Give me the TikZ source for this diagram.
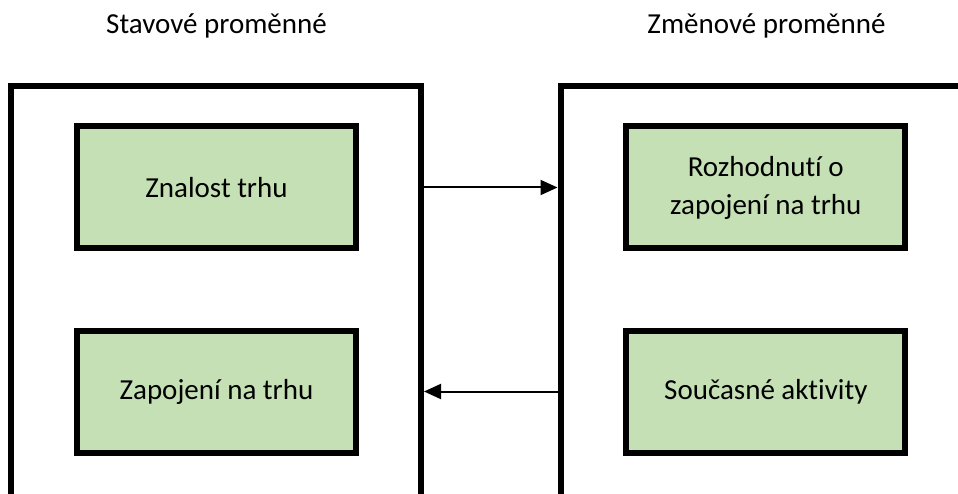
\documentclass[tikz,border=0pt]{standalone}
\usepackage{fontspec}
\setmainfont[Ligatures=NoCommon]{Carlito}
\usetikzlibrary{arrows.meta}
\definecolor{boxgreen}{HTML}{C5E0B4}
\begin{document}
\begin{tikzpicture}[x=1pt,y=-1pt,
  frame/.style={draw=black, line width=6pt, anchor=north west, inner sep=0pt,
    minimum height=500pt},
  item/.style={draw=black, fill=boxgreen, line width=6pt, inner sep=0pt,
    minimum width=279pt, minimum height=122pt, align=center,
    font=\fontsize{29}{38}\selectfont},
  heading/.style={font=\fontsize{29}{38}\selectfont, anchor=base},
  link/.style={line width=2pt, -{Triangle[length=17pt,width=15pt]}}]
  \useasboundingbox (0,0) rectangle (958,494);
  \clip (0,0) rectangle (958,494);

  % column headings
  \node[heading] (hstate) at (216.5,34) {Stavové proměnné};
  \node[heading] (hchange) at (766.5,34) {Změnové proměnné};

  % outer frames (run past the lower and right edges)
  \node[frame, minimum width=410pt] (state) at (8,82.7) {};
  \node[frame, minimum width=420pt] (change) at (557.5,82.7) {};

  % state variables
  \node[item] (know) at (216.5,187.5) {Znalost trhu};
  \node[item] (engage) at (216.5,391.5) {Zapojení na trhu};

  % change variables
  \node[item] (decide) at (765.8,187.5) {Rozhodnutí o\\zapojení na trhu};
  \node[item] (act) at (765.8,391.5) {Současné aktivity};

  % feedback between the two groups
  \draw[link] (state.east |- know.center) -- (change.west |- know.center);
  \draw[link] (change.west |- engage.center) -- (state.east |- engage.center);
\end{tikzpicture}
\end{document}
